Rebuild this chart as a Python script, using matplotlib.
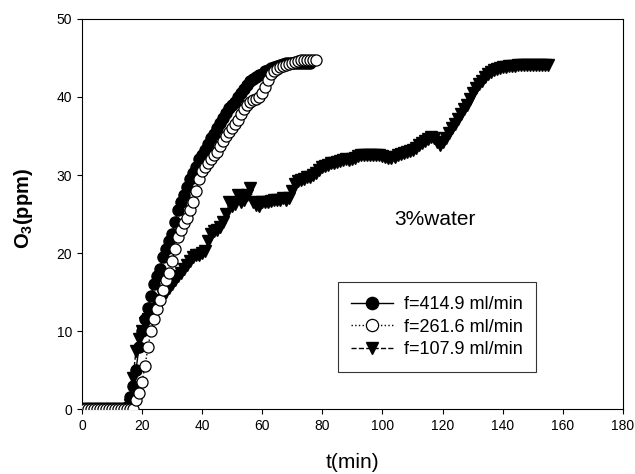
import numpy as np
import matplotlib.pyplot as plt

plt.rcParams['font.family'] = ['Liberation Sans', 'DejaVu Sans']
plt.rcParams['mathtext.fontset'] = 'custom'
plt.rcParams['mathtext.rm'] = 'Liberation Sans'
plt.rcParams['mathtext.bf'] = 'Liberation Sans:bold'

# O3 concentration (ppm) vs time (min), one value per minute
t_414 = np.arange(0, 77)
o3_414 = [0] * 15 + [
    0.3, 1.5, 3, 5, 8, 10, 11.5, 13, 14.5, 16,
    17, 18, 19.5, 20.5, 21.5, 22.5, 24, 25.5, 26.5, 27.5,
    28.5, 29.5, 30.2, 31, 32, 32.5, 33.2, 34, 34.7, 35.3,
    36, 36.7, 37.3, 38, 38.6, 39, 39.3, 40, 40.5, 41,
    41.5, 42, 42.3, 42.5, 42.8, 43, 43.3, 43.5, 43.7, 43.9,
    44, 44.1, 44.2, 44.3, 44.3, 44.4, 44.4, 44.4, 44.4, 44.3,
    44.3, 44.3]

t_261 = np.arange(0, 79)
o3_261 = [0] * 18 + [
    1.2, 2, 3.5, 5.5, 8, 10, 11.5, 12.8, 14, 15.3,
    16.5, 17.5, 19, 20.5, 22, 23, 23.8, 24.5, 25.5, 26.5,
    28, 29.5, 30.5, 31, 31.5, 32, 32.5, 33, 33.7, 34.3,
    35, 35.5, 36, 36.5, 37, 37.8, 38.5, 39, 39.3, 39.6,
    39.8, 40, 40.5, 41.3, 42.2, 43, 43.3, 43.6, 43.8, 44,
    44.1, 44.2, 44.3, 44.5, 44.6, 44.7, 44.8, 44.8, 44.8, 44.8,
    44.8]

t_107 = np.arange(0, 156)
o3_107 = [0] * 16 + [
    0.5, 4, 7.5, 9, 10, 11, 11.5, 12, 12.8, 13.5,
    14, 14.5, 15, 15.5, 16, 16.5, 17, 17.5, 18, 18.5,
    19, 19.5, 19.7, 19.8, 20, 20.3, 21.5, 22.5, 22.8, 23,
    23.3, 24, 25, 26.5, 26, 26.3, 27.5, 26.5, 26.8, 27.5,
    28.3, 26.5, 26.2, 26, 26.5, 26.5, 26.6, 26.7, 26.8, 26.8,
    26.8, 27, 26.8, 27, 28, 28.8, 29.2, 29.3, 29.5, 29.7,
    29.8, 30, 30.3, 30.6, 31, 31.2, 31.3, 31.5, 31.6, 31.7,
    31.8, 31.9, 32, 31.9, 32, 32.2, 32.4, 32.5, 32.6, 32.6,
    32.6, 32.6, 32.5, 32.5, 32.4, 32.3, 32.2, 32.2, 32.3, 32.5,
    32.7, 32.8, 33, 33.1, 33.2, 33.5, 33.8, 34.1, 34.4, 34.6,
    34.9, 34.7, 34.2, 33.8, 34.2, 34.8, 35.4, 36, 36.6, 37.2,
    37.8, 38.4, 39, 39.7, 40.5, 41.1, 41.6, 42.1, 42.5, 42.9,
    43.2, 43.4, 43.6, 43.7, 43.8, 43.9, 44, 44, 44, 44.1,
    44.1, 44.1, 44.1, 44.1, 44.1, 44.1, 44.1, 44.1, 44.1, 44.1]

fig = plt.figure(figsize=(6.35, 4.74), dpi=100)
ax = fig.add_axes([0.129, 0.137, 0.852, 0.823])

l3, = ax.plot(t_107, o3_107, ls='--', color='black', lw=1, marker='v',
              ms=8.5, mfc='black', mec='black', label='f=107.9 ml/min', zorder=2)
l1, = ax.plot(t_414, o3_414, ls='-', color='black', lw=1, marker='o',
              ms=8, mfc='black', mec='black', label='f=414.9 ml/min', zorder=3)
l2, = ax.plot(t_261, o3_261, ls=':', color='black', lw=1, marker='o',
              ms=8, mfc='white', mec='black', mew=0.9, label='f=261.6 ml/min', zorder=4)

ax.set_xlim(0, 180)
ax.set_ylim(0, 50)
ax.set_xticks(np.arange(0, 181, 20))
ax.set_yticks(np.arange(0, 51, 10))
ax.tick_params(direction='out', labelsize=10, top=False, right=False)
ax.set_xlabel('t(min)', fontsize=15, va='baseline')
ax.xaxis.set_label_coords(0.5, -0.152)
ax.set_ylabel(r'O$_\mathbf{3}$(ppm)', fontsize=14.5, fontweight='bold', va='center')
ax.yaxis.set_label_coords(-0.108, 0.515)

ax.text(104, 23.6, '3%water', fontsize=15, va='baseline')

leg = ax.legend(handles=[l1, l2, l3], loc='lower left', bbox_to_anchor=(0.473, 0.095),
                borderaxespad=0, fontsize=13, frameon=True, fancybox=False,
                edgecolor='black', handlelength=2.3, handletextpad=0.6,
                borderpad=0.75, labelspacing=0.32, markerscale=1.1)
leg.get_frame().set_linewidth(0.8)

fig.savefig('out.png', dpi=100)
